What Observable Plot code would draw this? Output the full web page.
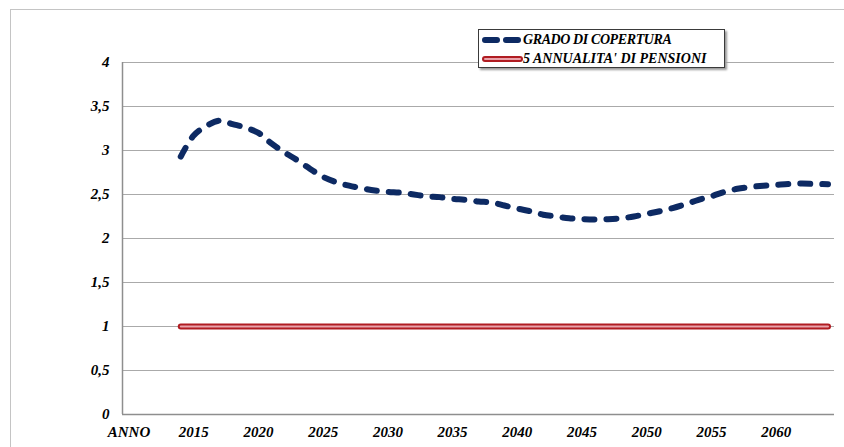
<!DOCTYPE html>
<html>
<head>
<meta charset="utf-8">
<script src="https://cdn.jsdelivr.net/npm/d3@7"></script>
<script src="https://cdn.jsdelivr.net/npm/@observablehq/plot@0.6"></script>
<style>
  html, body { margin: 0; padding: 0; background: #fff; }
  #wrap { position: relative; width: 844px; height: 447px; overflow: hidden; }
  #frame { position: absolute; left: 10px; top: 9px; width: 900px; height: 500px; border: 1px solid #c4c4c4; box-sizing: border-box; }
  #chart { position: absolute; left: 0; top: 0; }
  #legend { position: absolute; left: 478px; top: 29px; width: 247px; height: 39px; background: #fff;
    border: 1px solid #3a3a3a; box-sizing: border-box; box-shadow: 2px 2px 2px #9a9a9a;
    font-family: "Liberation Serif", "Times New Roman", serif; font-weight: bold; font-style: italic; font-size: 14px; color: #000; }
  .row { position: absolute; left: 3px; height: 18px; display: flex; align-items: center; white-space: nowrap; }
  .row svg { display: block; }
</style>
</head>
<body>
<div id="wrap">
  <div id="frame"></div>
  <div id="chart"></div>
  <div id="legend">
    <div class="row" style="top:1px">
      <svg width="41" height="18"><line x1="3" y1="9" x2="38" y2="9" stroke="#0d2a63" stroke-width="6" stroke-linecap="round" stroke-dasharray="12,9"/></svg>
      <span id="lab0" style="letter-spacing:-0.4px"></span>
    </div>
    <div class="row" style="top:20px">
      <svg width="41" height="18"><line x1="3" y1="9" x2="38" y2="9" stroke="#b01c22" stroke-width="6" stroke-linecap="round"/><line x1="3" y1="9" x2="38" y2="9" stroke="#eaa3ab" stroke-width="2" stroke-linecap="round"/></svg>
      <span id="lab1"></span>
    </div>
  </div>
</div>
<script>
// ---- data ----
const seriesNames = ["GRADO DI COPERTURA", "5 ANNUALITA' DI PENSIONI"];
const years = [2014, 2015, 2016, 2017, 2018, 2019, 2020, 2021, 2022, 2023,
  2024, 2025, 2026, 2027, 2028, 2029, 2030, 2031, 2032, 2033,
  2034, 2035, 2036, 2037, 2038, 2039, 2040, 2041, 2042, 2043,
  2044, 2045, 2046, 2047, 2048, 2049, 2050, 2051, 2052, 2053,
  2054, 2055, 2056, 2057, 2058, 2059, 2060, 2061, 2062, 2063, 2064];
const coverage = [2.93, 3.17, 3.28, 3.34, 3.30, 3.26, 3.20, 3.08, 2.98, 2.89,
  2.79, 2.70, 2.64, 2.60, 2.57, 2.545, 2.53, 2.52, 2.50, 2.48,
  2.47, 2.45, 2.44, 2.42, 2.41, 2.375, 2.34, 2.31, 2.27, 2.25,
  2.23, 2.22, 2.216, 2.22, 2.23, 2.25, 2.28, 2.31, 2.345, 2.39,
  2.44, 2.48, 2.53, 2.565, 2.585, 2.60, 2.61, 2.62, 2.625, 2.62, 2.617];
const pensionYears = [2014, 2064];
const pensionValues = [1, 1];
const xTickValues = [2010, 2015, 2020, 2025, 2030, 2035, 2040, 2045, 2050, 2055, 2060];
const xTickLabels = ["ANNO", "2015", "2020", "2025", "2030", "2035", "2040", "2045", "2050", "2055", "2060"];
const yTickValues = [0, 0.5, 1, 1.5, 2, 2.5, 3, 3.5, 4];
const yTickLabels = ["0", "0,5", "1", "1,5", "2", "2,5", "3", "3,5", "4"];

document.getElementById("lab0").textContent = seriesNames[0];
document.getElementById("lab1").textContent = seriesNames[1];

const coverageData = years.map((y, i) => ({year: y, value: coverage[i]}));
const pensionData = pensionYears.map((y, i) => ({year: y, value: pensionValues[i]}));
const xLab = new Map(xTickValues.map((v, i) => [v, xTickLabels[i]]));
const yLab = new Map(yTickValues.map((v, i) => [v, yTickLabels[i]]));

const serif = "'Liberation Serif', 'Times New Roman', serif";
const font = {fontFamily: serif, fontWeight: "bold", fontStyle: "italic", fontSize: 15};

const chart = Plot.plot({
  width: 844,
  height: 447,
  marginLeft: 122,
  marginRight: 10,
  marginTop: 62,
  marginBottom: 33,
  style: {background: "transparent", fontFamily: serif, fontWeight: "bold", fontStyle: "italic", fontSize: "15px", color: "#000"},
  x: {domain: [2009.5, 2064.5], label: null},
  y: {domain: [0, 4], label: null},
  marks: [
    Plot.ruleY(yTickValues.filter(v => v > 0), {stroke: "#aaaaaa", strokeWidth: 1}),
    Plot.ruleY([0], {stroke: "#8e8e8e", strokeWidth: 1.5}),
    Plot.ruleX([2009.5], {y1: 0, y2: 4, stroke: "#8e8e8e", strokeWidth: 1.5}),
    Plot.axisX({ticks: xTickValues, tickFormat: d => xLab.get(d), tickSize: 0, tickPadding: 12, label: null, ...font}),
    Plot.axisY({ticks: yTickValues, tickFormat: d => yLab.get(d), tickSize: 0, tickPadding: 13, label: null, ...font}),
    Plot.line(pensionData, {x: "year", y: "value", stroke: "#b01c22", strokeWidth: 6, strokeLinecap: "round"}),
    Plot.line(pensionData, {x: "year", y: "value", stroke: "#eaa3ab", strokeWidth: 2, strokeLinecap: "round"}),
    Plot.line(coverageData, {x: "year", y: "value", curve: "catmull-rom", stroke: "#0d2a63", strokeWidth: 6,
      strokeLinecap: "round", strokeDasharray: "10,12"})
  ]
});
document.getElementById("chart").appendChild(chart);
</script>
</body>
</html>
